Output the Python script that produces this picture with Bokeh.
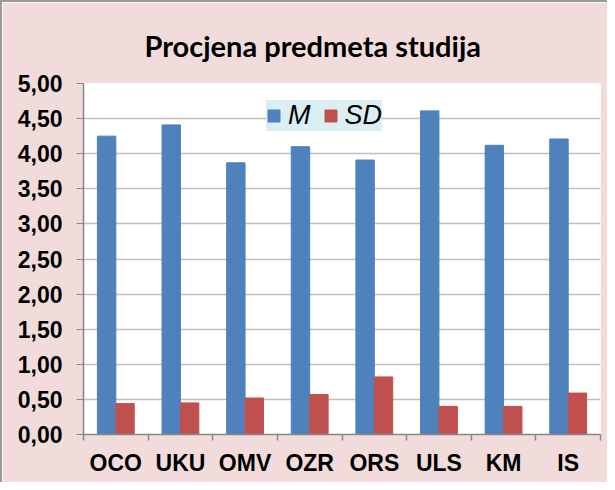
from bokeh.plotting import figure
from bokeh.models import (ColumnDataSource, FixedTicker, Range1d, Legend, LegendItem)
from bokeh.transform import dodge
from bokeh.embed import file_html
from bokeh.resources import INLINE

categories = ["OCO", "UKU", "OMV", "OZR", "ORS", "ULS", "KM", "IS"]
m_values = [4.25, 4.41, 3.87, 4.10, 3.91, 4.61, 4.12, 4.21]
sd_values = [0.44, 0.45, 0.52, 0.57, 0.82, 0.40, 0.40, 0.59]
y_ticks = [0.0, 0.5, 1.0, 1.5, 2.0, 2.5, 3.0, 3.5, 4.0, 4.5, 5.0]
title_text = "Procjena predmeta studija"
series_names = ["M", "SD"]

xpos = [i + 0.5 for i in range(len(categories))]
src = ColumnDataSource(dict(x=xpos, m=m_values, sd=sd_values, cat=categories))

PINK = "#F2DCDB"
BLUE = "#4F81BD"
RED = "#C0504D"

p = figure(width=607, height=482, output_backend="svg", toolbar_location=None,
           x_range=Range1d(0, len(categories)), y_range=Range1d(0, 5),
           min_border_left=81, min_border_right=9, min_border_top=81, min_border_bottom=50)
p.border_fill_color = PINK
p.background_fill_color = "white"
p.outline_line_color = None
p.styles = {"border-left": "2px solid #9A9A9A", "border-top": "2px solid #9A9A9A"}

p.title.text = title_text
p.title.text_font = "Lato"
p.title.text_font_style = "bold"
p.title.text_font_size = "29px"
p.title.text_color = "black"
p.title.align = "left"
p.title.offset = 61
p.title.standoff = 42

bw = 0.285
r_m = p.vbar(x=dodge("x", -bw / 2), top="m", width=bw, source=src,
             fill_color=BLUE, line_color=BLUE)
r_sd = p.vbar(x=dodge("x", bw / 2), top="sd", width=bw, source=src,
              fill_color=RED, line_color=RED)

# y axis
p.yaxis.ticker = FixedTicker(ticks=y_ticks)
p.yaxis.major_label_overrides = {t: f"{t:.2f}".replace(".", ",") for t in y_ticks}
p.yaxis.major_label_text_font = "Liberation Sans"
p.yaxis.major_label_text_font_style = "bold"
p.yaxis.major_label_text_font_size = "23px"
p.yaxis.major_label_text_color = "black"
p.yaxis.major_tick_out = 7
p.yaxis.major_tick_in = 0
p.yaxis.minor_tick_line_color = None
p.yaxis.major_tick_line_color = "#868686"
p.yaxis.axis_line_color = "#868686"
p.yaxis.axis_line_width = 1.5
p.yaxis.major_label_standoff = 14

# x axis
p.xaxis.ticker = FixedTicker(ticks=xpos, minor_ticks=list(range(len(categories) + 1)))
p.xaxis.major_label_overrides = {x: c for x, c in zip(xpos, categories)}
p.xaxis.major_label_text_font = "Liberation Sans"
p.xaxis.major_label_text_font_style = "bold"
p.xaxis.major_label_text_font_size = "23px"
p.xaxis.major_label_text_color = "black"
p.xaxis.major_tick_line_color = None
p.xaxis.major_tick_out = 6
p.xaxis.minor_tick_out = 6
p.xaxis.minor_tick_in = 0
p.xaxis.minor_tick_line_color = "#868686"
p.xaxis.minor_tick_line_width = 1.5
p.xaxis.axis_line_color = "#868686"
p.xaxis.axis_line_width = 1.5
p.xaxis.major_label_standoff = 9

p.xgrid.grid_line_color = None
p.ygrid.ticker = FixedTicker(ticks=y_ticks)
p.ygrid.grid_line_color = "#BFBFBF"
p.ygrid.grid_line_width = 1.5

legend = Legend(items=[LegendItem(label=series_names[0], renderers=[r_m]),
                       LegendItem(label=series_names[1], renderers=[r_sd])],
                location=(183, 303), orientation="horizontal")
legend.background_fill_color = "#DBEEF4"
legend.background_fill_alpha = 1.0
legend.border_line_color = None
legend.label_text_font = "Liberation Sans"
legend.label_text_font_style = "italic"
legend.label_text_font_size = "27px"
legend.label_text_color = "black"
legend.label_height = 28
legend.glyph_width = 15
legend.glyph_height = 15
legend.label_standoff = 7
legend.spacing = 12
legend.padding = 7
legend.margin = 0
p.add_layout(legend, "center")

open("out.html", "w").write(file_html(p, INLINE))
